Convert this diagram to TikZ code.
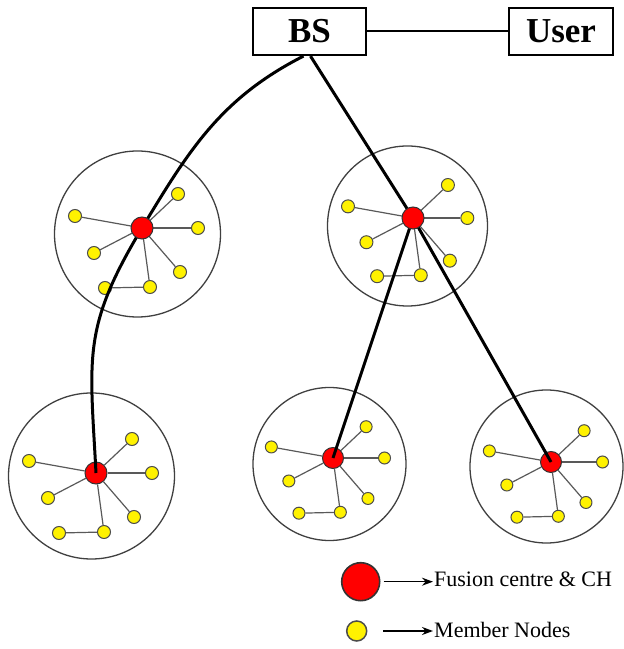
\documentclass[tikz,border=0pt]{standalone}
\usepackage{fontspec}
\setmainfont{Liberation Serif}
\usetikzlibrary{arrows.meta}
\tikzset{
 ring/.style={draw=black!75, line width=1.3pt},
 member/.style={circle, draw=black!70, fill=yellow, line width=1pt, minimum size=13pt, inner sep=0pt},
 chnode/.style={circle, draw=black!80, fill=red, line width=1pt, minimum size=22pt, inner sep=0pt},
 medge/.style={draw=black!65, line width=1.2pt},
 backbone/.style={draw=black, line width=3pt},
 box/.style={draw=black, line width=2.2pt, font=\fontsize{35}{35}\selectfont\bfseries, inner sep=0pt},
 legtext/.style={font=\fontsize{22}{22}\selectfont, inner sep=0pt},
 legarrow/.style={-{Stealth[length=11pt,width=8pt]}, line width=1.6pt},
}
\newcommand\members[4]{%
  \foreach \dx/\dy [count=\i] in {36/34,-67/12,56/0,-48/-25,38/-44,-37/-60,8/-59}
    \node[member, minimum size=#4] (#1m\i) at ([shift={({#3*(\dx)},{#3*(\dy)})}]#2) {};
  \foreach \i in {1,2,3,4,5,7} \draw[medge] (#2) -- (#1m\i);
  \draw[medge] (#1m6) -- (#1m7);
}
\begin{document}
\begin{tikzpicture}[x=1pt,y=1pt]
\useasboundingbox (0,0) rectangle (624,649);
% rings
\draw[ring] (137.5,415) circle[radius=83];
\draw[ring] (407.5,423) circle[radius=80];
\draw[ring] (91.5,173) circle[radius=83];
\draw[ring] (329.5,185) circle[radius=76.5];
\draw[ring] (546.5,182.5) circle[radius=76.5];
% centres
\coordinate (p1) at (142,421);
\coordinate (p2) at (413,431);
\node[chnode] (ch3) at (96,176) {};
\node[chnode, minimum size=21pt] (ch4) at (333,191) {};
\node[chnode, minimum size=21pt] (ch5) at (551,187) {};
\members{a}{p1}{1}{13pt}
\members{b}{p2}{0.97}{13pt}
\members{c}{ch3}{1}{13pt}
\members{d}{ch4}{0.92}{12pt}
\members{e}{ch5}{0.92}{12pt}
% boxes
\node[box, minimum width=113pt, minimum height=47pt] (bs) at (309.5,617.5) {BS};
\node[box, minimum width=104pt, minimum height=47pt] (user) at (561,617.5) {User};
\draw[line width=2pt] (bs) -- (user);
% backbone
\draw[backbone] ([xshift=-6pt]bs.south) to[out=207,in=59] (p1) to[out=239,in=93,looseness=1.2] (ch3.center);
\draw[backbone] ([xshift=1pt]bs.south) -- (p2) -- (ch4.center);
\draw[backbone] (p2) -- (ch5.center);
\node[chnode] (ch1) at (p1) {};
\node[chnode] (ch2) at (p2) {};
% legend
\node[chnode, minimum size=38pt, line width=1.6pt] (lgch) at (360.7,67.3) {};
\node[member, minimum size=20pt, line width=1.5pt] (lgmem) at (356.7,18) {};
\node[legtext, anchor=base west] (lgt1) at (434,63) {Fusion centre \& CH};
\node[legtext, anchor=base west] (lgt2) at (434,11.7) {Member Nodes};
\draw[legarrow, shorten <=3pt, shorten >=1pt] (lgch.east) -- (lgch.east -| lgt1.west);
\draw[legarrow, shorten <=16pt, shorten >=1pt] (lgmem.east) -- (lgmem.east -| lgt2.west);
\end{tikzpicture}
\end{document}
